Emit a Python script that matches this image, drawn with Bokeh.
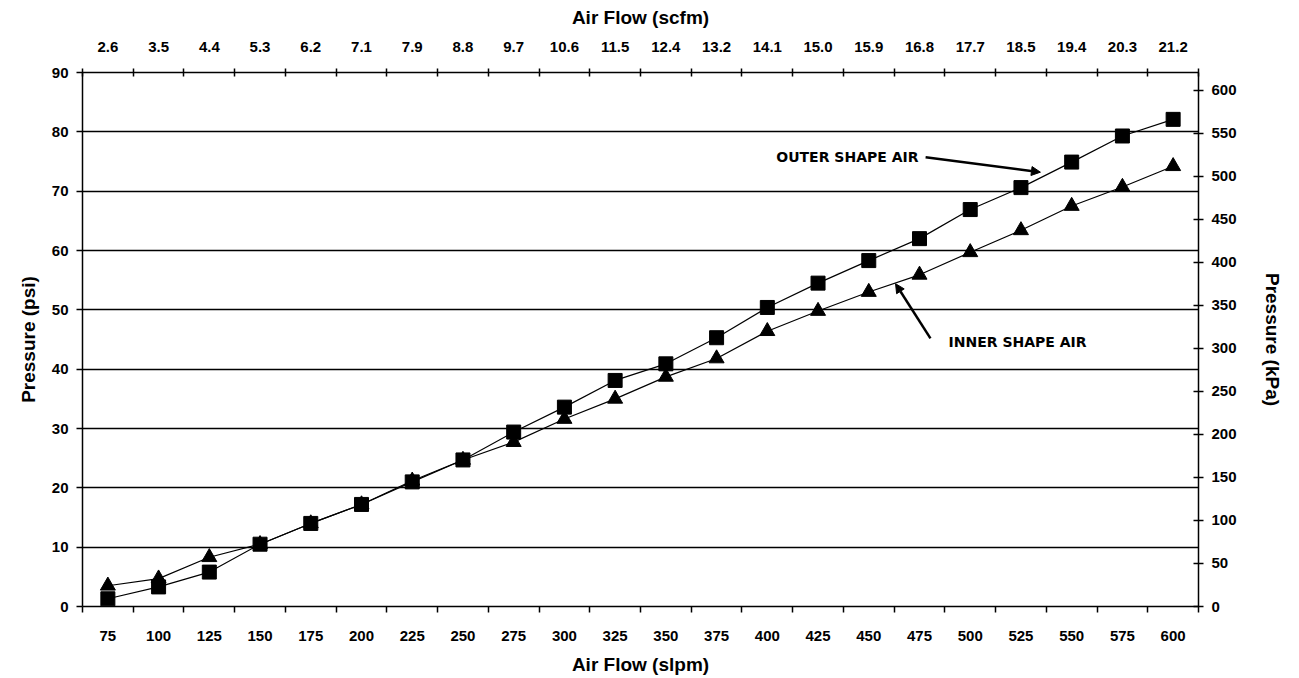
from bokeh.plotting import figure
from bokeh.models import Range1d, LinearAxis, FixedTicker, Label, Arrow, NormalHead
from bokeh.embed import file_html
from bokeh.resources import INLINE

# ---- data ----
flow_slpm = [75, 100, 125, 150, 175, 200, 225, 250, 275, 300, 325,
             350, 375, 400, 425, 450, 475, 500, 525, 550, 575, 600]
flow_scfm = ["2.6", "3.5", "4.4", "5.3", "6.2", "7.1", "7.9", "8.8", "9.7", "10.6", "11.5",
             "12.4", "13.2", "14.1", "15.0", "15.9", "16.8", "17.7", "18.5", "19.4", "20.3", "21.2"]
outer_psi = [1.3, 3.3, 5.8, 10.5, 14.0, 17.2, 21.0, 24.7, 29.4, 33.6, 38.1,
             40.9, 45.3, 50.4, 54.5, 58.3, 62.0, 66.9, 70.6, 74.9, 79.3, 82.1]
inner_psi = [3.5, 4.7, 8.3, 10.5, 14.0, 17.2, 21.2, 24.7, 27.7, 31.6, 35.0,
             38.7, 41.8, 46.4, 49.8, 53.0, 55.9, 59.7, 63.4, 67.5, 70.7, 74.2]
psi_ticks = [0, 10, 20, 30, 40, 50, 60, 70, 80, 90]
kpa_ticks = [0, 50, 100, 150, 200, 250, 300, 350, 400, 450, 500, 550, 600]
PSI_TO_KPA = 6.895

FONT = "Liberation Sans"
step = flow_slpm[1] - flow_slpm[0]
x_lo = flow_slpm[0] - step / 2
x_hi = flow_slpm[-1] + step / 2
boundaries = [f - step / 2 for f in flow_slpm] + [x_hi]

p = figure(width=1298, height=677, output_backend="svg", toolbar_location=None,
           x_range=Range1d(x_lo, x_hi), y_range=Range1d(0, 90),
           min_border_left=82, min_border_right=100, min_border_top=72, min_border_bottom=71,
           x_axis_location=None, y_axis_location=None)
p.outline_line_color = None
p.background_fill_color = "white"
p.border_fill_color = "white"

def style_axis(ax, title):
    ax.axis_label = title
    ax.axis_label_text_font = FONT
    ax.axis_label_text_font_size = "19px"
    ax.axis_label_text_font_style = "bold"
    ax.axis_label_text_color = "black"
    ax.major_label_text_font = FONT
    ax.major_label_text_font_size = "15px"
    ax.major_label_text_font_style = "bold"
    ax.major_label_text_color = "black"
    ax.axis_line_color = "black"
    ax.axis_line_width = 1.5
    ax.major_tick_line_color = "black"
    ax.minor_tick_line_color = "black"
    ax.major_tick_line_width = 1.5
    ax.minor_tick_line_width = 1.5

# bottom axis (slpm)
xb = LinearAxis(ticker=FixedTicker(ticks=flow_slpm, minor_ticks=boundaries))
style_axis(xb, "Air Flow (slpm)")
xb.major_tick_in = 0
xb.major_tick_out = 0
xb.minor_tick_in = 0
xb.minor_tick_out = 6
xb.major_label_standoff = 18
xb.axis_label_standoff = 10
p.add_layout(xb, "below")

# top axis (scfm)
xt = LinearAxis(ticker=FixedTicker(ticks=flow_slpm, minor_ticks=boundaries),
                major_label_overrides={f: s for f, s in zip(flow_slpm, flow_scfm)})
style_axis(xt, "Air Flow (scfm)")
xt.major_tick_in = 0
xt.major_tick_out = 0
xt.minor_tick_in = 4
xt.minor_tick_out = 4
xt.major_label_standoff = 17
xt.axis_label_standoff = 11
p.add_layout(xt, "above")

# left axis (psi)
yl = LinearAxis(ticker=FixedTicker(ticks=psi_ticks, minor_ticks=[]))
style_axis(yl, "Pressure (psi)")
yl.major_tick_in = 0
yl.major_tick_out = 6
yl.major_label_standoff = 8
yl.axis_label_standoff = 10
p.add_layout(yl, "left")

# right axis (kPa)
p.extra_y_ranges = {"kpa": Range1d(0, 90 * PSI_TO_KPA)}
yr = LinearAxis(y_range_name="kpa", ticker=FixedTicker(ticks=kpa_ticks, minor_ticks=[]))
style_axis(yr, "Pressure (kPa)")
yr.major_tick_in = 5
yr.major_tick_out = 5
yr.major_label_standoff = 8
yr.axis_label_standoff = 22
p.add_layout(yr, "right")

# grid
p.xgrid.visible = False
p.ygrid.ticker = FixedTicker(ticks=psi_ticks)
p.ygrid.grid_line_color = "black"
p.ygrid.grid_line_width = 1.3
p.ygrid.grid_line_alpha = 1.0

# series
p.line(flow_slpm, outer_psi, line_color="black", line_width=1.2)
p.scatter(flow_slpm, outer_psi, marker="square", size=14, fill_color="black", line_color="black")
p.line(flow_slpm, inner_psi, line_color="black", line_width=1.2)
p.scatter(flow_slpm, inner_psi, marker="triangle", size=15, fill_color="black", line_color="black")

# annotations
p.add_layout(Label(x=474.5, y=75.7, text="OUTER SHAPE AIR", text_align="right",
                   text_baseline="middle", text_font="DejaVu Sans", text_font_size="14px",
                   text_font_style="bold", text_color="black"))
p.add_layout(Arrow(x_start=478.0, y_start=75.7, x_end=534.6, y_end=73.2,
                   line_width=2.5, line_color="black",
                   end=NormalHead(size=9, fill_color="black", line_color="black")))
p.add_layout(Label(x=489.3, y=44.5, text="INNER SHAPE AIR", text_align="left",
                   text_baseline="middle", text_font="DejaVu Sans", text_font_size="14px",
                   text_font_style="bold", text_color="black"))
p.add_layout(Arrow(x_start=480.4, y_start=45.2, x_end=463.2, y_end=54.4,
                   line_width=2.5, line_color="black",
                   end=NormalHead(size=9, fill_color="black", line_color="black")))

open("out.html", "w").write(file_html(p, INLINE))
